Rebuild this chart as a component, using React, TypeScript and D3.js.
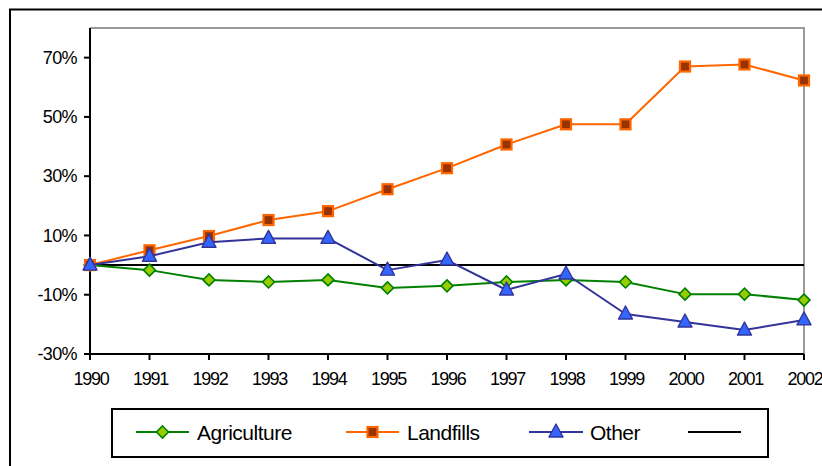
import React from "react";
import * as d3 from "d3";

// Yearly change relative to 1990
const years = ["1990","1991","1992","1993","1994","1995","1996","1997","1998","1999","2000","2001","2002"];
const agriculture = [0, -1.7, -5, -5.7, -5, -7.7, -7, -5.7, -5, -5.7, -9.8, -9.8, -11.8];
const landfills = [0, 5, 9.8, 15.2, 18.2, 25.6, 32.7, 40.7, 47.5, 47.5, 67, 67.7, 62.3];
const other = [0, 3, 7.7, 9, 9, -1.7, 1.7, -8.4, -3, -16.5, -19.2, -21.9, -18.5];
const baseline = [0, 0, 0, 0, 0, 0, 0, 0, 0, 0, 0, 0, 0];
const yTicks = [-30, -10, 10, 30, 50, 70];

const W = 822;
const H = 466;
const plot = { left: 90, right: 804, top: 28, bottom: 354 };
const FONT = "'Liberation Sans', Arial, sans-serif";

type Marker = "diamond" | "square" | "triangle" | "none";

const seriesDefs = [
  { name: "Agriculture", values: agriculture, line: "#008000", fill: "#99CC00", stroke: "#008000", marker: "diamond" as Marker },
  { name: "Landfills", values: landfills, line: "#FF6600", fill: "#993300", stroke: "#FF6600", marker: "square" as Marker },
  { name: "Other", values: other, line: "#333399", fill: "#3366FF", stroke: "#333399", marker: "triangle" as Marker },
];

function MarkerShape({ kind, x, y, fill, stroke }: { kind: Marker; x: number; y: number; fill: string; stroke: string }) {
  if (kind === "diamond") {
    const r = 6;
    return (
      <path
        d={`M${x},${y - r}L${x + r},${y}L${x},${y + r}L${x - r},${y}Z`}
        fill={fill}
        stroke={stroke}
        strokeWidth={1.6}
      />
    );
  }
  if (kind === "square") {
    const s = 10;
    return (
      <rect x={x - s / 2} y={y - s / 2} width={s} height={s} fill={fill} stroke={stroke} strokeWidth={2.2} />
    );
  }
  if (kind === "triangle") {
    return (
      <path
        d={`M${x},${y - 8}L${x + 7},${y + 5}L${x - 7},${y + 5}Z`}
        fill={fill}
        stroke={stroke}
        strokeWidth={1.4}
        strokeLinejoin="round"
      />
    );
  }
  return null;
}

export default function App() {
  const x = d3.scalePoint<string>().domain(years).range([plot.left, plot.right]).padding(0);
  const y = d3.scaleLinear().domain([-30, 80]).range([plot.bottom, plot.top]);

  const line = d3
    .line<number>()
    .x((_, i) => x(years[i]) as number)
    .y((v) => y(v));

  const legendItems = [
    { label: "Agriculture", x0: 136, x1: 189, tx: 197, def: seriesDefs[0] },
    { label: "Landfills", x0: 346, x1: 399, tx: 407, def: seriesDefs[1] },
    { label: "Other", x0: 529, x1: 583, tx: 590, def: seriesDefs[2] },
  ];
  const legendY = 432;

  return (
    <svg
      width={W}
      height={H}
      style={{ position: "fixed", left: 0, top: 0, background: "#fff" }}
      fontFamily={FONT}
    >
      <rect x={0} y={0} width={W} height={H} fill="#fff" />
      {/* outer chart frame */}
      <rect x={10} y={9.5} width={W + 20} height={H + 20} fill="none" stroke="#000" strokeWidth={2} />

      {/* plot area border: top and right */}
      <path
        d={`M${plot.left},${plot.top}H${plot.right}V${plot.bottom}`}
        fill="none"
        stroke="#999"
        strokeWidth={2}
      />

      {/* y axis */}
      <line x1={plot.left} y1={plot.top} x2={plot.left} y2={plot.bottom} stroke="#000" strokeWidth={2} />
      {yTicks.map((t) => (
        <g key={t}>
          <line x1={plot.left - 6} x2={plot.left} y1={y(t)} y2={y(t)} stroke="#000" strokeWidth={2} />
          <text
            x={77}
            y={y(t)}
            dy="0.35em"
            textAnchor="end"
            fontSize={18}
            letterSpacing={-0.6}
            fill="#000"
          >
            {`${t}%`}
          </text>
        </g>
      ))}

      {/* x axis */}
      <line x1={plot.left - 1} y1={plot.bottom} x2={plot.right} y2={plot.bottom} stroke="#000" strokeWidth={2} />
      {years.map((yr) => (
        <g key={yr}>
          <line x1={x(yr)} x2={x(yr)} y1={plot.bottom} y2={plot.bottom + 6} stroke="#000" strokeWidth={2} />
          <text
            x={(x(yr) as number) + 1}
            y={385}
            textAnchor="middle"
            fontSize={18}
            letterSpacing={-1.2}
            fill="#000"
          >
            {yr}
          </text>
        </g>
      ))}

      {/* zero reference series */}
      <path d={line(baseline) ?? ""} fill="none" stroke="#000" strokeWidth={2} />

      {/* data series */}
      {seriesDefs.map((s) => (
        <g key={s.name}>
          <path d={line(s.values) ?? ""} fill="none" stroke={s.line} strokeWidth={2} strokeLinejoin="round" />
          {s.values.map((v, i) => (
            <MarkerShape
              key={i}
              kind={s.marker}
              x={x(years[i]) as number}
              y={y(v)}
              fill={s.fill}
              stroke={s.stroke}
            />
          ))}
        </g>
      ))}

      {/* legend */}
      <rect x={112} y={409} width={656} height={48} fill="#fff" stroke="#000" strokeWidth={2} />
      {legendItems.map((it) => (
        <g key={it.label}>
          <line x1={it.x0} x2={it.x1} y1={legendY} y2={legendY} stroke={it.def.line} strokeWidth={2} />
          <MarkerShape
            kind={it.def.marker}
            x={(it.x0 + it.x1) / 2}
            y={legendY}
            fill={it.def.fill}
            stroke={it.def.stroke}
          />
          <text x={it.tx} y={legendY} dy="0.36em" fontSize={21} letterSpacing={-0.5} fill="#000">
            {it.label}
          </text>
        </g>
      ))}
      <line x1={688} x2={741} y1={legendY} y2={legendY} stroke="#000" strokeWidth={2} />
    </svg>
  );
}
